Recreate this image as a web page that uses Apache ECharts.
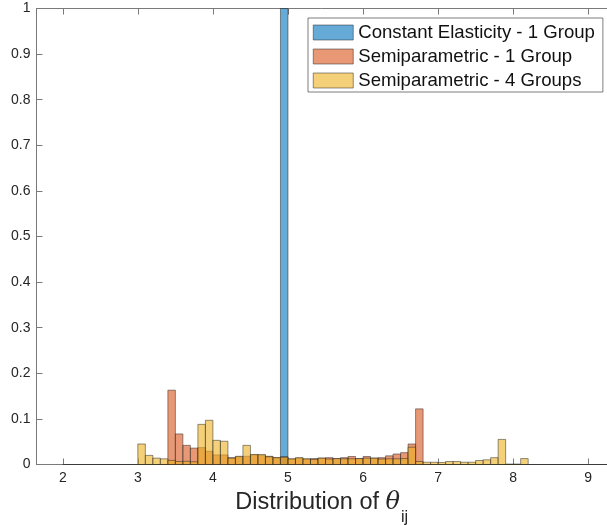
<!DOCTYPE html>
<html>
<head>
<meta charset="utf-8">
<script src="https://cdn.jsdelivr.net/npm/echarts@6/dist/echarts.min.js"></script>
<style>html,body{margin:0;padding:0;background:#fff}#c{width:607px;height:525px}</style>
</head>
<body>
<div id="c"></div>
<script>
// ---- data ----
const binWidth = 0.1;
const seriesNames = ['Constant Elasticity - 1 Group', 'Semiparametric - 1 Group', 'Semiparametric - 4 Groups'];
const xTicks = [2, 3, 4, 5, 6, 7, 8, 9];
const yTicks = [0, 0.1, 0.2, 0.3, 0.4, 0.5, 0.6, 0.7, 0.8, 0.9, 1];

// Constant Elasticity - 1 Group: bin starts and heights
const ceBinStarts = [
  2.0, 2.1, 2.2, 2.3, 2.4, 2.5, 2.6, 2.7, 2.8, 2.9,
  3.0, 3.1, 3.2, 3.3, 3.4, 3.5, 3.6, 3.7, 3.8, 3.9,
  4.0, 4.1, 4.2, 4.3, 4.4, 4.5, 4.6, 4.7, 4.8, 4.9,
  5.0, 5.1, 5.2, 5.3, 5.4, 5.5, 5.6, 5.7, 5.8, 5.9,
  6.0, 6.1, 6.2, 6.3, 6.4, 6.5, 6.6, 6.7, 6.8, 6.9,
  7.0, 7.1, 7.2, 7.3, 7.4, 7.5, 7.6, 7.7, 7.8, 7.9,
  8.0, 8.1, 8.2, 8.3, 8.4, 8.5, 8.6, 8.7, 8.8, 8.9,
  9.0, 9.1, 9.2
];
const ceValues = [
  0, 0, 0, 0, 0, 0, 0, 0, 0, 0,
  0, 0, 0, 0, 0, 0, 0, 0, 0, 0,
  0, 0, 0, 0, 0, 0, 0, 0, 0, 1.0,
  0, 0, 0, 0, 0, 0, 0, 0, 0, 0,
  0, 0, 0, 0, 0, 0, 0, 0, 0, 0,
  0, 0, 0, 0, 0, 0, 0, 0, 0, 0,
  0, 0, 0, 0, 0, 0, 0, 0, 0, 0,
  0, 0, 0
];

// Semiparametric histograms: bin starts and heights
const semiBinStarts = [
  3.0, 3.1, 3.2, 3.3, 3.4, 3.5, 3.6, 3.7, 3.8, 3.9,
  4.0, 4.1, 4.2, 4.3, 4.4, 4.5, 4.6, 4.7, 4.8, 4.9,
  5.0, 5.1, 5.2, 5.3, 5.4, 5.5, 5.6, 5.7, 5.8, 5.9,
  6.0, 6.1, 6.2, 6.3, 6.4, 6.5, 6.6, 6.7, 6.8, 6.9,
  7.0, 7.1, 7.2, 7.3, 7.4, 7.5, 7.6, 7.7, 7.8, 7.9,
  8.0, 8.1
];
const semi1Values = [
  0, 0, 0, 0, 0.163, 0.067, 0.042, 0.036, 0.037, 0.029,
  0.021, 0.021, 0.015, 0.017, 0.018, 0.021, 0.020, 0.018, 0.015, 0.017,
  0.012, 0.014, 0.012, 0.013, 0.014, 0.015, 0.013, 0.015, 0.0176, 0.013,
  0.0176, 0.014, 0.015, 0.019, 0.023, 0.026, 0.045, 0.122, 0, 0,
  0, 0, 0, 0, 0, 0, 0, 0, 0, 0,
  0, 0
];
const semi4Values = [
  0.045, 0.020, 0.014, 0.0125, 0.009, 0.0066, 0.007, 0.006, 0.088, 0.097,
  0.053, 0.051, 0.014, 0.018, 0.042, 0.022, 0.022, 0.017, 0.015, 0.016,
  0.0125, 0.015, 0.0125, 0.011, 0.014, 0.012, 0.013, 0.0125, 0.0125, 0.013,
  0.014, 0.014, 0.012, 0.0125, 0.0125, 0.013, 0.038, 0.0066, 0.005, 0.005,
  0.0044, 0.0066, 0.0066, 0.005, 0.005, 0.0088, 0.0103, 0.015, 0.055, 0.001,
  0.001, 0.013
];

// ---- styles ----
const faceColors = ['rgba(0,114,189,0.6)', 'rgba(217,83,25,0.6)', 'rgba(237,177,32,0.6)'];
const edgeColor = '#262626';
const textColor = '#262626';
const axisColor = '#7a7a7a';
const font = 'Liberation Sans, Arial, Helvetica, sans-serif';

function toData(starts, values) {
  return starts.map((s, i) => [s, +(s + binWidth).toFixed(4), values[i]]);
}

function renderItem(params, api) {
  const x0 = api.value(0), x1 = api.value(1), h = api.value(2);
  const pTop = api.coord([x0, h]);
  const pBot = api.coord([x1, 0]);
  const cs = params.coordSys;
  const shape = echarts.graphic.clipRectByRect(
    { x: pTop[0], y: pTop[1], width: pBot[0] - pTop[0], height: pBot[1] - pTop[1] },
    { x: cs.x, y: cs.y - 1, width: cs.width, height: cs.height + 2 }
  );
  if (!shape) return;
  return {
    type: 'rect',
    shape: shape,
    style: { fill: faceColors[params.seriesIndex], stroke: edgeColor, lineWidth: 0.5 }
  };
}

const datasets = [toData(ceBinStarts, ceValues), toData(semiBinStarts, semi1Values), toData(semiBinStarts, semi4Values)];

const chart = echarts.init(document.getElementById('c'), null, { renderer: 'canvas' });
chart.setOption({
  animation: false,
  backgroundColor: '#fff',
  grid: { left: 36.5, right: 0, top: 8.5, bottom: 60.5, outerBoundsMode: 'none', containLabel: false },
  xAxis: [{
    type: 'value', min: 1.65, max: 9.25, position: 'bottom',
    axisLine: { show: true, onZero: false, lineStyle: { color: axisColor, width: 1 } },
    axisTick: { show: true, inside: true, length: 6, customValues: xTicks, lineStyle: { color: axisColor } },
    axisLabel: { customValues: xTicks, color: textColor, fontSize: 14, fontFamily: font, margin: 7 },
    splitLine: { show: false },
    name: '{a|Distribution of }{t|θ}{s|ij}',
    nameLocation: 'middle', nameGap: 22,
    nameTextStyle: {
      verticalAlign: 'top',
      rich: {
        a: { fontSize: 23.5, fontFamily: font, color: textColor, verticalAlign: 'top', lineHeight: 28 },
        t: { fontSize: 24, fontFamily: 'DejaVu Serif, Liberation Serif, serif', fontStyle: 'italic', color: textColor, verticalAlign: 'top', lineHeight: 28 },
        s: { fontSize: 16, fontFamily: font, color: textColor, verticalAlign: 'top', lineHeight: 17, padding: [19, 0, 0, 1] }
      }
    }
  }, {
    type: 'value', min: 1.65, max: 9.25, position: 'top',
    axisLine: { show: true, onZero: false, lineStyle: { color: axisColor, width: 1 } },
    axisTick: { show: true, inside: true, length: 6, customValues: xTicks, lineStyle: { color: axisColor } },
    axisLabel: { show: false },
    splitLine: { show: false }
  }],
  yAxis: {
    type: 'value', min: 0, max: 1, interval: 0.1,
    axisLine: { show: true, onZero: false, lineStyle: { color: axisColor, width: 1 } },
    axisTick: { show: true, inside: true, length: 6, customValues: yTicks, lineStyle: { color: axisColor } },
    axisLabel: { customValues: yTicks, color: textColor, fontSize: 14, fontFamily: font, margin: 6 },
    splitLine: { show: false }
  },
  legend: {
    orient: 'vertical', left: 308, top: 18,
    padding: [5, 8, 2, 5],
    itemWidth: 40, itemHeight: 15, itemGap: 5,
    backgroundColor: '#fff', borderColor: '#262626', borderWidth: 0.6,
    textStyle: { fontSize: 18.6, fontFamily: font, color: '#111', lineHeight: 16 },
    icon: 'rect',
    data: seriesNames.map((n, i) => ({ name: n, itemStyle: { color: faceColors[i], borderColor: edgeColor, borderWidth: 0.5 } }))
  },
  series: seriesNames.map((n, i) => ({
    type: 'custom', name: n, renderItem: renderItem,
    xAxisIndex: 0, yAxisIndex: 0,
    encode: { x: [0, 1], y: 2 },
    itemStyle: { color: faceColors[i], borderColor: edgeColor, borderWidth: 0.5 },
    data: datasets[i]
  }))
});
</script>
</body>
</html>
